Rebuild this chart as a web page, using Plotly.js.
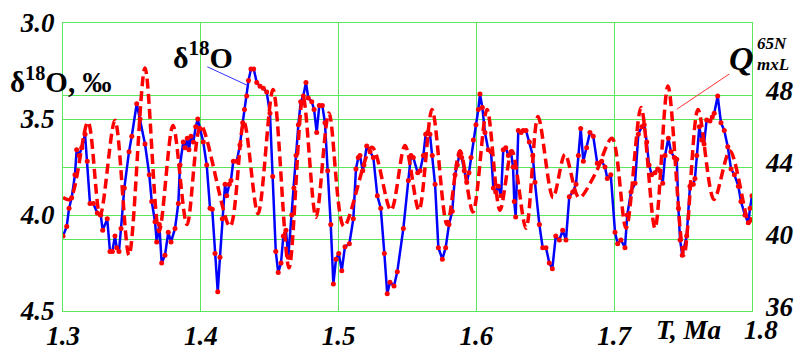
<!DOCTYPE html>
<html>
<head>
<meta charset="utf-8">
<script src="https://cdn.plot.ly/plotly-3.0.1.min.js"></script>
<style>html,body{margin:0;padding:0;background:#fff;}#chart{width:802px;height:350px;}</style>
</head>
<body>
<div id="chart"></div>
<script>
// δ18O record (left axis, per mille, reversed)
const T_d18O = [1.3000,1.3027,1.3044,1.3063,1.3087,1.3099,1.3116,1.3136,1.3160,1.3176,1.3196,1.3220,1.3249,1.3274,1.3288,1.3321,1.3341,1.3358,1.3377,1.3390,1.3406,1.3421,1.3445,1.3479,1.3499,1.3535,1.3559,1.3595,1.3626,1.3644,1.3668,1.3680,1.3699,1.3716,1.3740,1.3764,1.3784,1.3813,1.3837,1.3849,1.3873,1.3885,1.3902,1.3914,1.3929,1.3946,1.3963,1.3978,1.3994,1.4018,1.4043,1.4067,1.4083,1.4103,1.4123,1.4139,1.4156,1.4176,1.4188,1.4207,1.4219,1.4236,1.4261,1.4284,1.4304,1.4317,1.4333,1.4346,1.4364,1.4384,1.4406,1.4430,1.4454,1.4478,1.4502,1.4522,1.4544,1.4562,1.4582,1.4599,1.4618,1.4635,1.4660,1.4676,1.4691,1.4708,1.4725,1.4744,1.4763,1.4780,1.4805,1.4822,1.4841,1.4860,1.4882,1.4901,1.4921,1.4943,1.4962,1.4981,1.5001,1.5023,1.5046,1.5078,1.5107,1.5126,1.5143,1.5155,1.5175,1.5184,1.5204,1.5228,1.5252,1.5281,1.5306,1.5332,1.5353,1.5373,1.5402,1.5426,1.5470,1.5506,1.5525,1.5542,1.5574,1.5591,1.5615,1.5632,1.5647,1.5663,1.5680,1.5700,1.5724,1.5753,1.5777,1.5801,1.5825,1.5845,1.5861,1.5876,1.5893,1.5912,1.5930,1.5946,1.5961,1.5978,1.5997,1.6014,1.6026,1.6043,1.6062,1.6086,1.6106,1.6123,1.6140,1.6159,1.6179,1.6195,1.6213,1.6232,1.6251,1.6266,1.6275,1.6285,1.6304,1.6324,1.6340,1.6360,1.6384,1.6409,1.6425,1.6457,1.6481,1.6505,1.6529,1.6551,1.6576,1.6602,1.6626,1.6650,1.6674,1.6699,1.6723,1.6740,1.6757,1.6776,1.6800,1.6824,1.6848,1.6877,1.6909,1.6933,1.6950,1.6975,1.7006,1.7025,1.7049,1.7078,1.7095,1.7122,1.7151,1.7175,1.7200,1.7218,1.7236,1.7253,1.7272,1.7296,1.7316,1.7332,1.7352,1.7369,1.7393,1.7412,1.7436,1.7454,1.7466,1.7478,1.7494,1.7509,1.7526,1.7550,1.7574,1.7586,1.7599,1.7618,1.7635,1.7652,1.7671,1.7695,1.7712,1.7726,1.7751,1.7775,1.7799,1.7824,1.7848,1.7872,1.7901,1.7920,1.7949,1.7973,1.7986,1.8000];
const d18O = [4.11,4.06,3.965,3.91,3.79,3.66,3.69,3.65,3.58,3.72,3.94,3.94,3.99,4.00,4.08,4.02,4.19,4.19,4.11,4.17,4.19,4.07,3.86,3.67,3.59,3.42,3.50,3.63,3.79,3.93,4.035,4.14,4.05,4.25,4.21,4.09,4.14,4.07,3.94,3.74,3.62,3.65,3.60,3.66,3.59,3.62,3.54,3.50,3.55,3.62,3.74,3.965,3.97,4.20,4.40,4.22,4.02,3.84,3.90,3.84,3.82,3.72,3.72,3.635,3.52,3.45,3.38,3.30,3.24,3.24,3.31,3.33,3.34,3.36,3.47,3.80,4.19,4.30,4.25,4.11,4.08,4.22,4.00,3.86,3.69,3.53,3.41,3.38,3.31,3.39,3.41,3.45,3.57,3.43,3.43,3.52,3.77,4.05,4.36,4.23,4.20,4.29,4.165,4.15,4.02,3.76,3.70,3.69,3.77,3.74,3.64,3.67,3.70,3.90,3.965,4.20,4.41,4.35,4.37,4.295,4.07,3.82,3.69,3.70,3.78,3.77,3.69,3.58,3.57,3.58,3.69,3.84,4.17,4.23,4.17,4.05,3.98,3.79,3.74,3.69,3.70,3.77,3.83,3.78,3.70,3.61,3.53,3.45,3.37,3.44,3.57,3.66,3.67,3.86,3.88,3.85,3.90,3.66,3.65,3.69,3.67,3.75,3.93,4.01,3.56,3.57,3.56,3.56,3.62,3.69,3.83,4.05,4.17,4.17,4.25,4.28,4.11,4.13,4.08,4.13,3.905,3.88,3.84,3.69,3.55,3.72,3.65,3.57,3.59,3.73,3.72,3.75,3.81,3.79,4.09,4.15,4.13,4.17,4.00,3.88,3.835,3.58,3.54,3.53,3.62,3.74,3.79,3.78,3.76,3.77,3.835,3.69,3.60,3.67,3.70,3.71,3.965,4.13,4.21,4.17,4.11,3.85,3.84,3.81,3.69,3.54,3.61,3.63,3.505,3.51,3.49,3.47,3.38,3.52,3.56,3.645,3.76,3.79,3.85,3.93,4.00,4.04,3.965,3.90,3.92];

// Summer insolation Q 65N (right axis)
const T_Q = [1.3000,1.3051,1.3181,1.3269,1.3377,1.3479,1.3595,1.3697,1.3798,1.3900,1.4001,1.4212,1.4313,1.4415,1.4524,1.4640,1.4742,1.4836,1.4930,1.5039,1.5242,1.5380,1.5482,1.5583,1.5678,1.5787,1.5881,1.5975,1.6077,1.6171,1.6258,1.6360,1.6447,1.6556,1.6643,1.6745,1.6861,1.6984,1.7086,1.7195,1.7296,1.7390,1.7506,1.7608,1.7724,1.7840,1.7978,1.8000];
const Q = [42.3,42.2,46.5,41.3,46.6,39.1,49.5,40.4,46.3,40.8,46.3,40.7,46.5,41.4,48.3,38.4,47.9,41.2,47.0,40.7,45.1,41.6,45.2,41.6,47.2,40.8,44.9,41.5,47.2,41.6,44.9,40.6,46.8,42.3,44.7,42.3,43.6,45.6,40.6,47.3,40.6,48.5,39.1,47.2,42.2,44.9,40.9,41.2];

const xTicks = [1.3,1.4,1.5,1.6,1.7];
const xTickText = ['1.3','1.4','1.5','1.6','1.7'];
const yTicks = [3.0,3.5,4.0,4.5];
const yTickText = ['3.0','3.5','4.0','4.5'];
const y2Ticks = [36,40,44,48];
const y2TickText = ['36','40','44','48'];

const GREEN = '#5ce65c';
const SERIF = 'Liberation Serif, Times New Roman, serif';
const tickFont = {family: SERIF, size: 27, color: '#000', weight: 'bold', style: 'italic'};

const traces = [
  {x: T_d18O, y: d18O, type: 'scatter', mode: 'lines+markers', yaxis: 'y',
   line: {color: '#0000ff', width: 2.5},
   marker: {color: '#ff0000', size: 5}},
  {x: T_Q, y: Q, type: 'scatter', mode: 'lines', yaxis: 'y2',
   line: {color: '#ff0000', width: 3.5, dash: '10px,5px', shape: 'spline', smoothing: 0.9}}
];

const rightLabels = y2Ticks.map((v, i) => ({
  xref: 'paper', yref: 'y2', x: 1, xanchor: 'left', xshift: 11, y: v, yanchor: 'middle', yshift: 4,
  text: y2TickText[i], showarrow: false, font: tickFont
}));

const layout = {
  width: 802, height: 350,
  margin: {l: 63, r: 50, t: 23, b: 39},
  paper_bgcolor: '#fff', plot_bgcolor: '#fff',
  showlegend: false,
  xaxis: {range: [1.3, 1.8], tickvals: xTicks, ticktext: xTickText, showgrid: true, gridcolor: GREEN, gridwidth: 1,
          zeroline: false, showline: true, linecolor: GREEN, linewidth: 1, mirror: true, ticks: '',
          tickfont: tickFont, ticklabelstandoff: 1},
  yaxis: {range: [4.5, 3.0], tickvals: yTicks, ticktext: yTickText, showgrid: true, gridcolor: GREEN, gridwidth: 1,
          zeroline: false, showline: true, linecolor: GREEN, linewidth: 1, mirror: true, ticks: '',
          tickfont: tickFont, ticklabelstandoff: 2},
  yaxis2: {range: [36, 52], overlaying: 'y', side: 'right', tickvals: y2Ticks, showticklabels: false,
           showgrid: true, gridcolor: GREEN, gridwidth: 1, zeroline: false, showline: false, ticks: ''},
  shapes: [
    {type: 'line', xref: 'x', yref: 'y', x0: 1.4047, y0: 3.228, x1: 1.4333, y1: 3.323, line: {color: '#3333ff', width: 1}},
    {type: 'line', xref: 'paper', yref: 'paper', x0: (729.3-63)/689, y0: (311-74)/288, x1: (676.7-63)/689, y1: (311-109.3)/288, line: {color: '#ff3333', width: 1}}
  ],
  annotations: rightLabels.concat([
    {xref: 'x', yref: 'paper', x: 1.8, xshift: 9, xanchor: 'center', y: 0, yanchor: 'top', yshift: -2, text: '1.8', showarrow: false,
     font: tickFont},
    {xref: 'paper', yref: 'paper', x: (688-63)/689, xanchor: 'center', y: 0, yanchor: 'top', yshift: -2, text: 'T, Ma', showarrow: false,
     font: tickFont},
    {xref: 'paper', yref: 'paper', x: (8-63)/689, xanchor: 'left', y: (311-80)/288, yanchor: 'middle',
     text: 'δ<sup>18</sup>O, ‰', showarrow: false, font: {family: SERIF, size: 29, color: '#000', weight: 'bold'}},
    {xref: 'paper', yref: 'paper', x: (171-63)/689, xanchor: 'left', y: (311-55)/288, yanchor: 'middle',
     text: 'δ<sup>18</sup>O', showarrow: false, font: {family: SERIF, size: 30, color: '#000', weight: 'bold'}},
    {xref: 'paper', yref: 'paper', x: (741-63)/689, xanchor: 'center', y: (311-58)/288, yanchor: 'middle',
     text: 'Q', showarrow: false, font: {family: SERIF, size: 34, color: '#000', weight: 'bold', style: 'italic'}},
    {xref: 'paper', yref: 'paper', x: (755-63)/689, xanchor: 'left', y: (311-44)/288, yanchor: 'middle',
     text: '65N', showarrow: false, font: {family: SERIF, size: 17, color: '#000', weight: 'bold', style: 'italic'}},
    {xref: 'paper', yref: 'paper', x: (755-63)/689, xanchor: 'left', y: (311-64)/288, yanchor: 'middle',
     text: 'mxL', showarrow: false, font: {family: SERIF, size: 17, color: '#000', weight: 'bold', style: 'italic'}}
  ])
};

Plotly.newPlot('chart', traces, layout, {staticPlot: true, displayModeBar: false});
</script>
</body>
</html>
